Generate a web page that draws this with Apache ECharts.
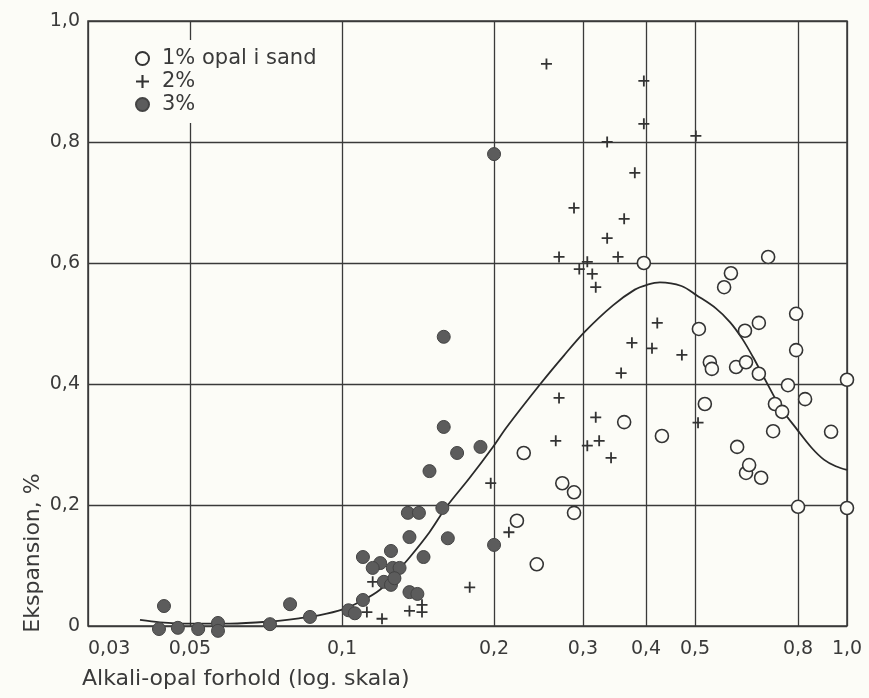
<!DOCTYPE html>
<html>
<head>
<meta charset="utf-8">
<script src="https://cdn.jsdelivr.net/npm/echarts@6/dist/echarts.min.js"></script>
<style>
html, body { margin: 0; padding: 0; background: #fcfcf7; }
#main { width: 869px; height: 698px; }
</style>
</head>
<body>
<div id="main"></div>
<script>
// 1% opal i sand (open circles)
var opal1X = [0.222, 0.229, 0.243, 0.273, 0.288, 0.288, 0.362, 0.396, 0.430, 0.509, 0.523, 0.535,
  0.540, 0.571, 0.589, 0.603, 0.606, 0.628, 0.631, 0.631, 0.640, 0.669, 0.669, 0.676,
  0.698, 0.714, 0.720, 0.744, 0.764, 0.793, 0.793, 0.80, 0.826, 0.930, 1.0, 1.0]
var opal1Y = [0.174, 0.286, 0.102, 0.236, 0.221, 0.187, 0.337, 0.600, 0.314, 0.491, 0.367, 0.436,
  0.425, 0.560, 0.583, 0.428, 0.296, 0.488, 0.436, 0.253, 0.266, 0.501, 0.417, 0.245,
  0.610, 0.322, 0.367, 0.354, 0.398, 0.516, 0.456, 0.197, 0.375, 0.321, 0.195, 0.407]

// 2% (crosses)
var opal2X = [0.254, 0.396, 0.396, 0.502, 0.335, 0.380, 0.288, 0.362, 0.335, 0.269, 0.352, 0.306,
  0.295, 0.313, 0.318, 0.421, 0.375, 0.411, 0.471, 0.357, 0.269, 0.318, 0.507, 0.265,
  0.306, 0.323, 0.341, 0.197, 0.214, 0.179, 0.115, 0.112, 0.120, 0.136, 0.144, 0.144]
var opal2Y = [0.929, 0.901, 0.830, 0.810, 0.800, 0.749, 0.691, 0.673, 0.641, 0.610, 0.610, 0.602,
  0.590, 0.582, 0.560, 0.501, 0.468, 0.459, 0.448, 0.418, 0.377, 0.345, 0.336, 0.306,
  0.298, 0.306, 0.278, 0.236, 0.155, 0.064, 0.073, 0.023, 0.012, 0.025, 0.035, 0.023]

// 3% (filled circles)
var opal3X = [0.159, 0.159, 0.169, 0.188, 0.149, 0.135, 0.142, 0.158, 0.136, 0.162, 0.125, 0.110,
  0.145, 0.119, 0.115, 0.126, 0.130, 0.121, 0.125, 0.127, 0.136, 0.141, 0.110, 0.103,
  0.106, 0.2, 0.2, 0.0444, 0.0434, 0.0473, 0.0519, 0.0568, 0.0568, 0.0720, 0.0789, 0.0864]
var opal3Y = [0.478, 0.329, 0.286, 0.296, 0.256, 0.187, 0.187, 0.195, 0.147, 0.145, 0.124, 0.114,
  0.114, 0.104, 0.096, 0.096, 0.096, 0.073, 0.068, 0.079, 0.056, 0.053, 0.043, 0.026,
  0.021, 0.134, 0.780, 0.033, -0.005, -0.003, -0.005, 0.005, -0.008, 0.003, 0.036, 0.015]

// fitted curve
var curveX = [0.0398, 0.0436, 0.05, 0.06, 0.071, 0.0826, 0.0904, 0.1, 0.1086, 0.1189, 0.127, 0.1363,
  0.149, 0.161, 0.179, 0.199, 0.212, 0.247, 0.275, 0.303, 0.344, 0.38, 0.402, 0.426,
  0.47, 0.505, 0.55, 0.587, 0.62, 0.651, 0.704, 0.74, 0.796, 0.85, 0.9, 0.95, 1.0]
var curveY = [0.010, 0.006, 0.004, 0.004, 0.007, 0.013, 0.018, 0.027, 0.040, 0.060, 0.085, 0.114,
  0.155, 0.197, 0.245, 0.296, 0.329, 0.400, 0.447, 0.487, 0.530, 0.556, 0.564, 0.568,
  0.562, 0.546, 0.525, 0.502, 0.475, 0.445, 0.392, 0.360, 0.325, 0.295, 0.275, 0.264, 0.258]

// axis ticks (log scale, first one is the left edge)
var xTicks = [0.0314, 0.05, 0.1, 0.2, 0.3, 0.4, 0.5, 0.8, 1.0]
var xTickLabels = ['0,03', '0,05', '0,1', '0,2', '0,3', '0,4', '0,5', '0,8', '1,0']

var bg = '#fcfcf7'
var ink = '#3a3a3a'
var font = "'DejaVu Sans', sans-serif"

function pts (xs, ys) {
  return xs.map(function (x, i) { return [Math.log10(x), ys[i]] })
}

var xTickLog = xTicks.map(function (v) { return Math.log10(v) })

var plus = 'path://M4.6,0 L6.4,0 L6.4,4.6 L11,4.6 L11,6.4 L6.4,6.4 L6.4,11 L4.6,11 L4.6,6.4 L0,6.4 L0,4.6 L4.6,4.6 Z'

var myChart = echarts.init(document.getElementById('main'))
myChart.setOption({
  backgroundColor: bg,
  animation: false,
  textStyle: { fontFamily: font },
  grid: { left: 88, right: 22, top: 21, bottom: 72, show: true, borderColor: ink, borderWidth: 1.5 },
  legend: {
    data: ['1% opal i sand', '2%', '3%'],
    orient: 'vertical',
    left: 127,
    top: 40,
    itemWidth: 13,
    itemHeight: 13,
    itemGap: 2,
    backgroundColor: bg,
    padding: [8, 8, 8, 8],
    textStyle: { fontFamily: font, fontSize: 21, lineHeight: 21, color: ink, padding: [0, 0, 0, 8] }
  },
  xAxis: {
    type: 'value',
    min: xTickLog[0],
    max: 0,
    axisLine: { show: false },
    axisTick: { show: false, customValues: xTickLog },
    axisLabel: {
      customValues: xTickLog,
      margin: 14,
      fontSize: 19,
      color: ink,
      alignMinLabel: 'left',
      formatter: function (v) {
        for (var i = 0; i < xTickLog.length; i++) {
          if (Math.abs(xTickLog[i] - v) < 1e-6) return xTickLabels[i]
        }
        return ''
      }
    },
    splitLine: { lineStyle: { color: ink, width: 1.3 } }
  },
  yAxis: {
    type: 'value',
    min: 0,
    max: 1,
    interval: 0.2,
    axisLine: { show: false },
    axisTick: { show: false },
    axisLabel: {
      margin: 8,
      fontSize: 19,
      color: ink,
      formatter: function (v) { return v === 0 ? '0' : v.toFixed(1).replace('.', ',') }
    },
    splitLine: { lineStyle: { color: ink, width: 1.3 } }
  },
  graphic: [
    {
      type: 'text', left: 82, top: 668,
      style: { text: 'Alkali-opal forhold (log. skala)', font: '22px ' + font, fill: ink }
    },
    {
      type: 'text', x: 33, y: 553, rotation: Math.PI / 2,
      style: { text: 'Ekspansion, %', font: '22px ' + font, fill: ink, align: 'center', verticalAlign: 'middle' }
    }
  ],
  series: [
    {
      name: 'kurve',
      type: 'line',
      data: pts(curveX, curveY),
      smooth: 0.35,
      showSymbol: false,
      lineStyle: { color: '#2a2a2a', width: 1.8 },
      z: 2
    },
    {
      name: '1% opal i sand',
      type: 'scatter',
      data: pts(opal1X, opal1Y),
      symbol: 'circle',
      symbolSize: 13,
      clip: false,
      itemStyle: { color: bg, borderColor: '#333', borderWidth: 1.6, opacity: 1 },
      z: 3
    },
    {
      name: '2%',
      type: 'scatter',
      data: pts(opal2X, opal2Y),
      symbol: plus,
      symbolSize: 11,
      clip: false,
      itemStyle: { color: '#333', opacity: 1 },
      z: 3
    },
    {
      name: '3%',
      type: 'scatter',
      data: pts(opal3X, opal3Y),
      symbol: 'circle',
      symbolSize: 13,
      clip: false,
      itemStyle: { color: '#5c5c5c', borderColor: '#444', borderWidth: 1, opacity: 1 },
      z: 3
    }
  ]
})
</script>
</body>
</html>
